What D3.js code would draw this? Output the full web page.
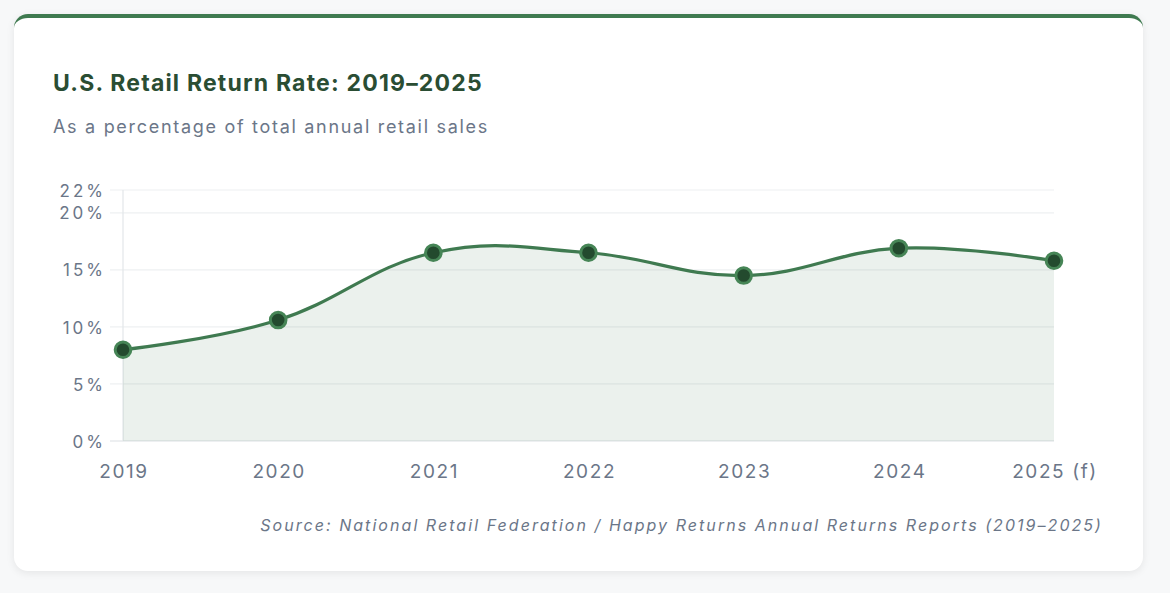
<!DOCTYPE html>
<html>
<head>
<meta charset="utf-8">
<script src="https://cdn.jsdelivr.net/npm/d3@7"></script>
<style>
	html, body { margin: 0; padding: 0; background: #f7f8f9; }
	body { width: 1170px; height: 593px; position: relative; overflow: hidden; font-family: 'Inter', 'Noto Sans', sans-serif; }
	.card {
		position: absolute; left: 14px; top: 14px; width: 1129px; height: 557px;
		background: #fff; border-radius: 14px; border-top: 4px solid #3f7a50;
		box-sizing: border-box; box-shadow: 0 2px 8px rgba(0, 0, 0, 0.08);
	}
	svg { position: absolute; left: 0; top: 0; }
	.title { font-size: 23px; font-weight: 700; fill: #2a4d33; letter-spacing: 1.2px; }
	.subtitle { font-size: 18px; fill: #6b7688; letter-spacing: 1.7px; }
	.tick text { fill: #6b7688; font-family: 'Inter', 'Noto Sans', sans-serif; }
	.y-axis .tick text { font-size: 17px; letter-spacing: 3px; }
	.x-axis .tick text { font-size: 19px; letter-spacing: 1.6px; }
	.source { font-size: 16px; font-style: italic; fill: #6b7688; letter-spacing: 2.05px; }
</style>
</head>
<body>
<div class="card"></div>
<div id="chart"></div>
<script>
const years = ['2019', '2020', '2021', '2022', '2023', '2024', '2025 (f)'];
const returnRate = [8.0, 10.6, 16.5, 16.5, 14.5, 16.9, 15.8];
const yTicks = [0, 5, 10, 15, 20, 22];

const width = 1170;
const height = 593;
const margin = { left: 123, right: 116, top: 190, bottom: 152 };

const svg = d3.select('#chart').append('svg').attr('width', width).attr('height', height);

svg.append('text').attr('class', 'title').attr('x', 53).attr('y', 91)
	.text('U.S. Retail Return Rate: 2019\u20132025');
svg.append('text').attr('class', 'subtitle').attr('x', 53).attr('y', 133)
	.text('As a percentage of total annual retail sales');

const xScale = d3.scalePoint().domain(years).range([margin.left, width - margin.right]);
const yScale = d3.scaleLinear().domain([0, 22]).range([height - margin.bottom, margin.top]);

// grid
svg.append('g').selectAll('line').data(yTicks).enter().append('line')
	.attr('x1', margin.left - 13).attr('x2', width - margin.right)
	.attr('y1', d => yScale(d)).attr('y2', d => yScale(d))
	.attr('stroke', d => d === 0 ? '#dcdfe3' : '#eef0f2').attr('stroke-width', 1.2);
svg.append('line')
	.attr('x1', margin.left).attr('x2', margin.left)
	.attr('y1', yScale(22)).attr('y2', yScale(0))
	.attr('stroke', '#e3e6e9').attr('stroke-width', 1.2);

const yAxis = d3.axisLeft(yScale).tickValues(yTicks).tickFormat(d => d + '%').tickSize(0).tickPadding(17);
svg.append('g').attr('class', 'y-axis').attr('transform', `translate(${margin.left}, 0)`).call(yAxis)
	.call(g => g.select('.domain').remove())
	.selectAll('text').attr('dy', '0.36em');

// letter-spacing leaves a trailing gap, so nudge the centred labels right
const xAxis = d3.axisBottom(xScale).tickSize(0).tickPadding(24);
svg.append('g').attr('class', 'x-axis').attr('transform', `translate(0.5, ${height - margin.bottom})`).call(xAxis)
	.call(g => g.select('.domain').remove());

const curve = d3.curveCardinal.tension(-0.2);
const area = d3.area()
	.x((d, i) => xScale(years[i]))
	.y0(yScale(0))
	.y1(d => yScale(d))
	.curve(curve);
const line = d3.line()
	.x((d, i) => xScale(years[i]))
	.y(d => yScale(d))
	.curve(curve);

svg.append('path').datum(returnRate).attr('d', area).attr('fill', 'rgba(63, 122, 80, 0.1)');
svg.append('path').datum(returnRate).attr('d', line)
	.attr('fill', 'none').attr('stroke', '#3f7a50').attr('stroke-width', 3.2);

svg.selectAll('circle').data(returnRate).enter().append('circle')
	.attr('cx', (d, i) => xScale(years[i]))
	.attr('cy', d => yScale(d))
	.attr('r', 7.8)
	.attr('fill', '#234a2e')
	.attr('stroke', '#468556')
	.attr('stroke-width', 3);

svg.append('text').attr('class', 'source').attr('x', 1103).attr('y', 531).attr('text-anchor', 'end')
	.text('Source: National Retail Federation / Happy Returns Annual Returns Reports (2019\u20132025)');
</script>
</body>
</html>
